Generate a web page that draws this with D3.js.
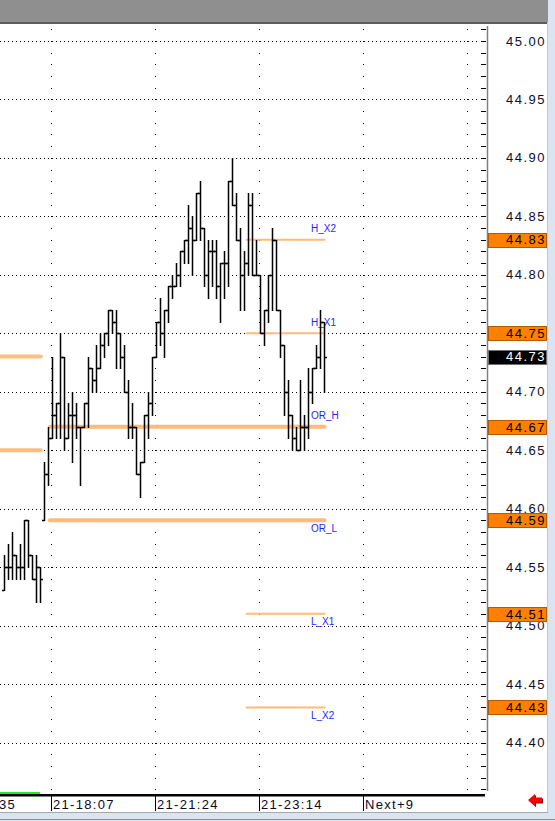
<!DOCTYPE html>
<html><head><meta charset="utf-8">
<script src="https://cdn.jsdelivr.net/npm/d3@7/dist/d3.min.js"></script>
<style>html,body{margin:0;padding:0;background:#fff;overflow:hidden}svg{display:block}</style>
</head><body>
<svg id="c" width="555" height="821"></svg>
<script>
// ---- data (OHLC bars, one per tick-bar index) ----
const opens  = [44.53,44.55,44.55,44.56,44.55,44.55,44.59,44.56,44.54,44.55,
                44.59,44.63,44.66,44.68,44.69,44.73,44.66,44.68,44.68,44.67,
                44.67,44.69,44.72,44.71,44.72,44.74,44.75,44.77,44.76,44.75,
                44.73,44.70,44.67,44.67,44.63,44.64,44.68,44.69,44.73,44.76,
                44.75,44.77,44.79,44.79,44.80,44.82,44.83,44.84,44.83,44.87,
                44.84,44.80,44.82,44.82,44.79,44.81,44.81,44.88,44.86,44.83,
                44.80,44.81,44.86,44.80,44.80,44.75,44.77,44.80,44.83,44.77,
                44.74,44.70,44.68,44.66,44.65,44.67,44.67,44.70,44.72,44.73,44.76];
const highs  = [44.56,44.57,44.58,44.56,44.57,44.59,44.59,44.56,44.56,44.55,
                44.64,44.67,44.73,44.69,44.75,44.73,44.69,44.70,44.69,44.67,
                44.69,44.73,44.72,44.74,44.75,44.75,44.77,44.77,44.77,44.75,
                44.74,44.71,44.69,44.67,44.64,44.68,44.70,44.73,44.76,44.78,
                44.77,44.79,44.80,44.81,44.82,44.83,44.86,44.85,44.87,44.88,
                44.84,44.83,44.83,44.83,44.81,44.82,44.88,44.90,44.87,44.84,
                44.82,44.87,44.87,44.83,44.80,44.77,44.80,44.84,44.83,44.77,
                44.74,44.71,44.68,44.67,44.71,44.68,44.72,44.72,44.74,44.77,44.76];
const lows   = [44.53,44.54,44.54,44.54,44.54,44.54,44.55,44.54,44.52,44.52,
                44.59,44.62,44.66,44.66,44.66,44.65,44.66,44.64,44.66,44.62,
                44.67,44.67,44.70,44.70,44.72,44.73,44.74,44.75,44.72,44.72,
                44.70,44.66,44.66,44.63,44.61,44.64,44.66,44.68,44.73,44.74,
                44.73,44.76,44.78,44.79,44.79,44.81,44.81,44.80,44.83,44.83,
                44.79,44.78,44.79,44.78,44.76,44.78,44.79,44.86,44.83,44.77,
                44.77,44.80,44.80,44.80,44.75,44.74,44.76,44.77,44.77,44.73,
                44.68,44.66,44.65,44.65,44.65,44.65,44.66,44.69,44.72,44.72,44.70];
const closes = [44.55,44.55,44.56,44.55,44.55,44.59,44.56,44.54,44.55,44.54,
                44.63,44.66,44.68,44.69,44.73,44.66,44.68,44.68,44.67,44.67,
                44.69,44.72,44.71,44.72,44.74,44.75,44.77,44.76,44.75,44.73,
                44.70,44.67,44.67,44.63,44.64,44.68,44.69,44.73,44.76,44.75,
                44.77,44.79,44.79,44.80,44.82,44.83,44.84,44.83,44.87,44.84,
                44.80,44.82,44.82,44.79,44.81,44.81,44.88,44.86,44.83,44.80,
                44.81,44.86,44.80,44.80,44.75,44.77,44.80,44.83,44.77,44.74,
                44.70,44.68,44.66,44.65,44.67,44.67,44.70,44.72,44.73,44.76,44.73];

// price axis
const priceTicks = [44.40,44.45,44.50,44.55,44.60,44.65,44.70,44.75,44.80,44.85,44.90,44.95,45.00];
const priceTickLabels = ["44.40","44.45","44.50","44.55","44.60","44.65","44.70","44.75","44.80","44.85","44.90","44.95","45.00"];

// key levels
const levelNames  = ["H_X2","H_X1","OR_H","OR_L","L_X1","L_X2"];
const levelValues = [44.83, 44.75, 44.67, 44.59, 44.51, 44.43];
const levelFrom   = [60.8, 60.8, 11.6, 11.6, 60.8, 60.8];
const levelTo     = [80.25,80.25,80.25,80.25,80.25,80.25];
const prevLevelValues = [44.73, 44.65];
const prevLevelFrom = [-1, -1];
const prevLevelTo   = [9.3, 9.3];
const currentPrice = 44.73;

// time axis
const timeLabels = ["21-18:07","21-21:24","21-23:14","Next+9"];
const timeIdx    = [12, 38, 64, 90];
const gridIdx    = [12, 38, 64, 90, 116];
const partialLabel = "35";

// ---- drawing ----
const svg = d3.select("#c");
const W = 555, H = 821;
const plotTop = 24, plotBottom = 791, plotRight = 487.5;

const y = d3.scaleLinear().domain([44.40, 45.00]).range([742.5, 40.9]);
const x = d3.scaleLinear().domain([0, 1]).range([3.5, 7.5]);
const py = v => Math.round(y(v)) + 0.5;

// backgrounds
svg.append("rect").attr("x",0).attr("y",0).attr("width",W).attr("height",H).attr("fill","#ffffff");
svg.append("rect").attr("x",0).attr("y",0).attr("width",548).attr("height",22).attr("fill","#8f8f8f");
svg.append("rect").attr("x",0).attr("y",22).attr("width",548).attr("height",2).attr("fill","#5c5c5c");
svg.append("rect").attr("x",548).attr("y",0).attr("width",7).attr("height",H).attr("fill","#dbe5f1");
svg.append("line").attr("x1",547.5).attr("x2",547.5).attr("y1",22).attr("y2",813).attr("stroke","#c8c8c8");
svg.append("rect").attr("x",0).attr("y",813).attr("width",W).attr("height",8).attr("fill","#dbe5f1");
svg.append("line").attr("x1",0).attr("x2",548).attr("y1",812.5).attr("y2",812.5).attr("stroke","#a8a8a8");
svg.append("line").attr("x1",0).attr("x2",W).attr("y1",819.5).attr("y2",819.5).attr("stroke","#8c8c8c");

// horizontal dotted grid
const grid = svg.append("g");
grid.selectAll("line.hg").data(priceTicks).join("line")
  .attr("x1",0).attr("x2",479).attr("y1",d=>py(d)).attr("y2",d=>py(d))
  .attr("stroke","#000").attr("stroke-width",1).attr("stroke-dasharray","1,3");

// vertical dotted grid: dots at every 0.01 price level
const dotLevels = d3.range(4436, 4502).map(k => k/100);
gridIdx.forEach(gi => {
  grid.selectAll(null).data(dotLevels).join("rect")
    .attr("x", Math.floor(x(gi))).attr("y", d=>Math.round(y(d)))
    .attr("width",1).attr("height",1).attr("fill","#000");
});

// axis ticks every 0.01 + axis line
const axisG = svg.append("g");
axisG.selectAll("line").data(dotLevels.filter(v=>y(v)>plotTop+2 && y(v)<plotBottom)).join("line")
  .attr("x1",481).attr("x2",486).attr("y1",d=>py(d)).attr("y2",d=>py(d))
  .attr("stroke","#000").attr("stroke-width",1);
svg.append("line").attr("x1",plotRight).attr("x2",plotRight).attr("y1",26).attr("y2",plotBottom)
  .attr("stroke","#808080").attr("stroke-width",1.5);

// previous-day levels
svg.append("g").selectAll("line").data(prevLevelValues).join("line")
  .attr("x1",(d,i)=>x(prevLevelFrom[i])).attr("x2",(d,i)=>x(prevLevelTo[i]))
  .attr("y1",d=>y(d)).attr("y2",d=>y(d))
  .attr("stroke","#ffbf80").attr("stroke-width",4).attr("stroke-linecap","round");

// key levels
const lv = svg.append("g");
lv.selectAll("line").data(levelValues).join("line")
  .attr("x1",(d,i)=>x(levelFrom[i])).attr("x2",(d,i)=>x(levelTo[i]))
  .attr("y1",d=>y(d)).attr("y2",d=>y(d))
  .attr("stroke","#ffbb77")
  .attr("stroke-width",(d,i)=> levelNames[i].startsWith("OR") ? 4 : 2)
  .attr("stroke-linecap","round");

// bars
const bars = svg.append("g");
const barPath = i => {
  const cx = Math.round(x(i)) + 0.5;
  return `M${cx},${py(highs[i])-0.5}V${py(lows[i])+0.5}` +
         `M${cx-2.5},${py(opens[i])}H${cx}` +
         `M${cx},${py(closes[i])}H${cx+2.5}`;
};
bars.selectAll("path").data(d3.range(opens.length)).join("path")
  .attr("d", barPath).attr("fill","none").attr("stroke","#000").attr("stroke-width",1.5);

// level labels
lv.selectAll("text").data(levelNames).join("text")
  .attr("x", x(77) - 0.5)
  .attr("y", (d,i)=> d.startsWith("L") || d==="OR_L" ? y(levelValues[i]) + 11.5 : y(levelValues[i]) - 7.5)
  .attr("font-family","Liberation Sans, Arial, sans-serif").attr("font-size",10)
  .attr("fill","#1f1fff").text(d=>d);

// price labels
const lbl = svg.append("g").attr("font-family","Liberation Sans, Arial, sans-serif")
  .attr("font-size",13).attr("letter-spacing","1.5px");
lbl.selectAll("text").data(priceTicks).join("text")
  .attr("x",546).attr("y",d=>y(d)+4.6).attr("text-anchor","end")
  .attr("fill","#0c0c30").text((d,i)=>priceTickLabels[i]);

// level boxes on axis
const boxes = svg.append("g").attr("font-family","Liberation Sans, Arial, sans-serif")
  .attr("font-size",13).attr("letter-spacing","1.5px");
const boxData = levelValues.map(v=>({v, cur:false})).concat([{v:currentPrice, cur:true}]);
boxes.selectAll("rect").data(boxData).join("rect")
  .attr("x",488.5).attr("y",d=>Math.round(y(d.v))-6.5).attr("width",58).attr("height",14)
  .attr("fill",d=>d.cur?"#000":"#ff8000").attr("stroke",d=>d.cur?"#707070":"#b35900").attr("stroke-width",1);
boxes.selectAll("text").data(boxData).join("text")
  .attr("x",546).attr("y",d=>y(d.v)+4.8).attr("text-anchor","end")
  .attr("fill",d=>d.cur?"#fff":"#000").text(d=>d.v.toFixed(2));

// bottom time axis
svg.append("rect").attr("x",0).attr("y",792).attr("width",40).attr("height",2).attr("fill","#22ee22");
svg.append("rect").attr("x",0).attr("y",794).attr("width",485).attr("height",2.5).attr("fill","#000");
const tg = svg.append("g").attr("font-family","Liberation Sans, Arial, sans-serif")
  .attr("font-size",13).attr("letter-spacing","1.3px").attr("fill","#0a0a28");
tg.selectAll("line").data(timeIdx).join("line")
  .attr("x1",d=>Math.floor(x(d))+0.5).attr("x2",d=>Math.floor(x(d))+0.5)
  .attr("y1",796).attr("y2",811).attr("stroke","#000");
tg.selectAll("text").data(timeLabels).join("text")
  .attr("x",(d,i)=>Math.floor(x(timeIdx[i]))+2).attr("y",809).text(d=>d);
tg.append("text").attr("x",-1).attr("y",809).text(partialLabel);

// red arrow
const arrow = "M528,800 L535,794 L535,797.5 L542,797.5 L542,802.5 L535,802.5 L535,806 Z";
svg.append("path").attr("d",arrow).attr("transform","translate(1,1)").attr("fill","#800000");
svg.append("path").attr("d",arrow).attr("fill","#ff0000");
</script>
</body></html>
